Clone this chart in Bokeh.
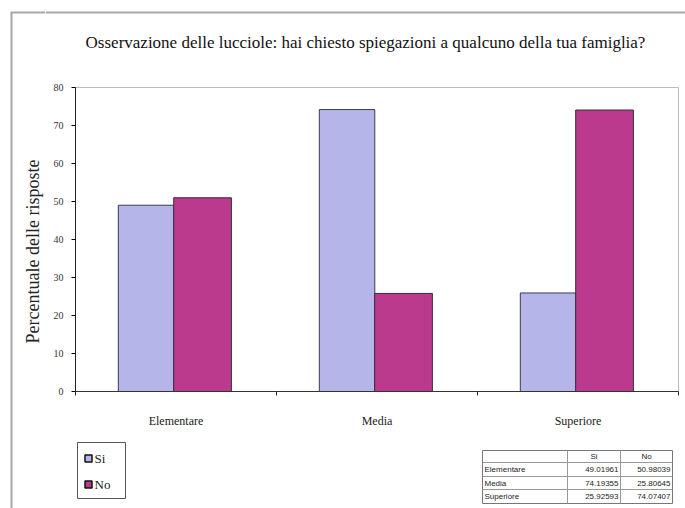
import math
from bokeh.plotting import figure
from bokeh.layouts import row, column
from bokeh.models import Range1d, FixedTicker, ColumnDataSource, LinearAxis
from bokeh.core.properties import value
from bokeh.embed import file_html
from bokeh.resources import INLINE

title_text = "Osservazione delle lucciole: hai chiesto spiegazioni a qualcuno della tua famiglia?"
y_label = "Percentuale delle risposte"
categories = ["Elementare", "Media", "Superiore"]
series = ["Si", "No"]
si_values = [49.01961, 74.19355, 25.92593]
no_values = [50.98039, 25.80645, 74.07407]
y_ticks = [0, 10, 20, 30, 40, 50, 60, 70, 80]

SERIF = "Liberation Serif"
SANS = "Liberation Sans"
SI_COLOR = "#B5B5EA"
NO_COLOR = "#BC3A8E"
FRAME_GRAY = "#a8a8a8"

SW = 45           # width of the left strip
CW = 685 - SW     # width of the right column

def bare(w, h, xr, yr):
    f = figure(width=w, height=h, output_backend="svg", toolbar_location=None,
               x_range=xr, y_range=yr, x_axis_type=None, y_axis_type=None,
               min_border=0, outline_line_color=None)
    f.grid.visible = False
    return f

# left strip: page frame line + y axis title
strip = bare(SW, 508, Range1d(0, SW), Range1d(508, 0))
strip.segment(x0=[11], y0=[12], x1=[11], y1=[508], line_color=FRAME_GRAY, line_width=2)
strip.segment(x0=[10], y0=[12], x1=[SW], y1=[12], line_color=FRAME_GRAY, line_width=2)
strip.text(x=[32], y=[251], text=[y_label], angle=math.pi / 2, text_font=value(SERIF),
           text_font_size="18px", text_align="center", text_baseline="middle", text_color="#222222")

# top area: frame line + title
top = bare(CW, 55, Range1d(0, CW), Range1d(55, 0))
top.segment(x0=[0], y0=[12], x1=[CW], y1=[12], line_color=FRAME_GRAY, line_width=2)
top.text(x=[365 - SW], y=[42], text=[title_text], text_font=value(SERIF), text_font_size="17px",
         text_align="center", text_baseline="middle", text_color="#111111")

# main chart
p = figure(width=CW, height=375, output_backend="svg", toolbar_location=None,
           x_range=Range1d(0, 3), y_range=Range1d(0, 80),
           min_border_left=75 - SW, min_border_right=7, min_border_top=32, min_border_bottom=35,
           x_axis_type=None, y_axis_type=None, outline_line_color="#bbbbbb")

n = len(categories)
src = ColumnDataSource(dict(
    xs=[i + 0.351 for i in range(n)], xn=[i + 0.632 for i in range(n)],
    si=si_values, no=no_values))
p.vbar(x="xs", top="si", width=0.276, source=src, fill_color=SI_COLOR, line_color="#3a3a55", line_width=1)
p.vbar(x="xn", top="no", width=0.287, source=src, fill_color=NO_COLOR, line_color="#3a2a35", line_width=1)

yax = LinearAxis(ticker=FixedTicker(ticks=y_ticks))
yax.major_label_text_font = SERIF
yax.major_label_text_font_size = "10px"
yax.major_label_text_color = "#333333"
yax.major_label_standoff = 8
yax.major_tick_out = 4
yax.major_tick_in = 0
yax.minor_tick_line_color = None
yax.axis_line_color = "#222222"
p.add_layout(yax, "left")

centers = [i + 0.5 for i in range(n)]
xax = LinearAxis(ticker=FixedTicker(ticks=centers, minor_ticks=list(range(n + 1))))
xax.major_label_overrides = {c: lab for c, lab in zip(centers, categories)}
xax.major_label_text_font = SERIF
xax.major_label_text_font_size = "12px"
xax.major_label_text_color = "#222222"
xax.major_tick_line_color = None
xax.major_tick_out = 0
xax.major_tick_in = 0
xax.major_label_standoff = 18
xax.minor_tick_out = 4
xax.minor_tick_in = 0
xax.minor_tick_line_color = "#222222"
xax.axis_line_color = "#333333"
p.add_layout(xax, "below")

p.xgrid.visible = False
p.ygrid.ticker = FixedTicker(ticks=y_ticks[1:-1])
p.ygrid.grid_line_color = "#333333"
p.ygrid.grid_line_dash = "3 1"
p.ygrid.grid_line_width = 1

# bottom area: legend and data table (x in page pixels minus strip width)
bot = bare(CW, 78, Range1d(SW, 685), Range1d(78, 0))
bot.rect(x=[101], y=[40], width=[48], height=[56], fill_color=None, line_color="#555555", line_width=1)
bot.scatter(x=[88, 88], y=[28, 54], marker="square", size=7,
            fill_color=[SI_COLOR, NO_COLOR], line_color="#111111", line_width=1.5)
bot.text(x=[94, 94], y=[28, 54], text=series, text_font=value(SERIF), text_font_size="13px",
         text_baseline="middle", text_color="#222222")

# table
tl, t1, t2, tr = 482, 567, 620, 672
rows_y = [20, 32, 46, 59, 73]
bot.rect(x=[(tl + tr) / 2], y=[(rows_y[0] + rows_y[-1]) / 2], width=[tr - tl],
         height=[rows_y[-1] - rows_y[0]], fill_color=None, line_color="#777777", line_width=1)
bot.segment(x0=[tl] * 3, y0=rows_y[1:4], x1=[tr] * 3, y1=rows_y[1:4], line_color="#999999", line_width=1)
bot.segment(x0=[t1, t2], y0=[rows_y[0]] * 2, x1=[t1, t2], y1=[rows_y[-1]] * 2, line_color="#999999", line_width=1)
mids = [(rows_y[i] + rows_y[i + 1]) / 2 for i in range(4)]
bot.text(x=[(t1 + t2) / 2, (t2 + tr) / 2], y=[mids[0]] * 2, text=series, text_font=value(SANS),
         text_font_size="8px", text_align="center", text_baseline="middle", text_color="#222222")
bot.text(x=[tl + 2] * n, y=mids[1:], text=categories, text_font=value(SANS),
         text_font_size="8px", text_baseline="middle", text_color="#222222")
bot.text(x=[t2 - 2] * n, y=mids[1:], text=[f"{v:.5f}" for v in si_values], text_font=value(SANS),
         text_font_size="8px", text_align="right", text_baseline="middle", text_color="#222222")
bot.text(x=[tr - 2] * n, y=mids[1:], text=[f"{v:.5f}" for v in no_values], text_font=value(SANS),
         text_font_size="8px", text_align="right", text_baseline="middle", text_color="#222222")

layout = row(strip, column(row(top), row(p), row(bot), spacing=0), spacing=0)
open("out.html", "w").write(file_html(layout, INLINE))
